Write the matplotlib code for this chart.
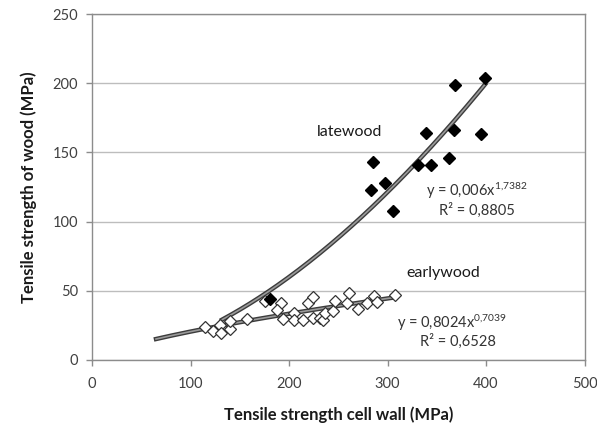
import numpy as np
import matplotlib
matplotlib.use("Agg")
import matplotlib.pyplot as plt
import matplotlib.patheffects as pe

plt.rcParams['font.family'] = ['Lato', 'DejaVu Sans']
plt.rcParams['mathtext.fontset'] = 'custom'
plt.rcParams['mathtext.rm'] = 'Lato'
plt.rcParams['mathtext.it'] = 'Lato'
plt.rcParams['mathtext.default'] = 'rm'

# latewood (filled diamonds)
late_x = [399, 369, 339, 367, 395, 285.5, 331, 344, 362.5, 283, 297, 305.5, 181]
late_y = [204, 199, 164, 166, 163.6, 142.9, 141, 141, 145.7, 122.7, 128, 108, 43.8]

# earlywood (open diamonds)
early_x = [114.7, 122.5, 129.9, 130.9, 140, 140, 157.6, 175.6, 191.5, 187.4,
           193.5, 205, 205, 214.5, 219.5, 224, 224, 231.4, 234.8, 236.5,
           244.9, 246.6, 258.5, 261.1, 270.3, 278.8, 286.2, 289.6, 307.5]
early_y = [24.1, 20.9, 25, 19.8, 22.6, 28.1, 29.9, 42.6, 41.4, 35.9,
           29.4, 34.2, 28.9, 28.6, 41.4, 45.5, 30.6, 30.6, 28.6, 34.2,
           35.4, 42.6, 41.4, 48.6, 36.6, 41.4, 46.2, 42.1, 46.9]

# power-law trend lines y = a * x^b, drawn over [x_start, x_end]
late_fit = (0.006, 1.7382, 132, 399)
early_fit = (0.8024, 0.7039, 65, 308)

fig = plt.figure(figsize=(5.97, 4.30), dpi=100)
ax = fig.add_axes([0.1541, 0.1628, 0.825, 0.8046])

ax.set_xlim(0, 500)
ax.set_ylim(0, 250)
ax.set_xticks(range(0, 501, 100))
ax.set_yticks(range(0, 251, 50))
ax.yaxis.grid(True, color='#bdbdbd', linewidth=1.0)
ax.set_axisbelow(True)
for s in ax.spines.values():
    s.set_color('#8c8c8c')
    s.set_linewidth(1.0)
ax.tick_params(axis='both', colors='#8c8c8c', labelcolor='#404040',
               labelsize=10.5, length=4, width=1, direction='out')
ax.tick_params(axis='x', pad=8)
ax.tick_params(axis='y', pad=6)

# trend lines
for a, b, x0, x1 in (late_fit, early_fit):
    xs = np.linspace(x0, x1, 200)
    ax.plot(xs, a * xs ** b, color='#9a9a9a', linewidth=1.2, zorder=2,
            path_effects=[pe.Stroke(linewidth=3.2, foreground='#3c3c3c'), pe.Normal()])

ax.plot(early_x, early_y, linestyle='none', marker='D', markersize=6,
        markerfacecolor='white', markeredgecolor='#333333', markeredgewidth=0.9, zorder=3)
ax.plot(late_x, late_y, linestyle='none', marker='D', markersize=6.3,
        markerfacecolor='black', markeredgecolor='black', zorder=4)

ax.text(261, 165, 'latewood', ha='center', va='center', fontsize=11.5, color='#1a1a1a')
ax.text(357, 63, 'earlywood', ha='center', va='center', fontsize=11.5, color='#1a1a1a')
ax.text(391, 122, r'y = 0,006x$^{1{,}7382}$', ha='center', va='center', fontsize=10.5, color='#333333')
ax.text(391, 108, 'R² = 0,8805', ha='center', va='center', fontsize=10.5, color='#333333')
ax.text(366, 26.5, r'y = 0,8024x$^{0{,}7039}$', ha='center', va='center', fontsize=10.5, color='#333333')
ax.text(371, 13.5, 'R² = 0,6528', ha='center', va='center', fontsize=10.5, color='#333333')

ax.set_xlabel('Tensile strength cell wall (MPa)', fontsize=12, fontweight='bold',
              color='#1a1a1a', labelpad=11)
ax.set_ylabel('Tensile strength of wood (MPa)', fontsize=12, fontweight='bold',
              color='#1a1a1a', labelpad=11)

fig.savefig('out.png', dpi=100)
